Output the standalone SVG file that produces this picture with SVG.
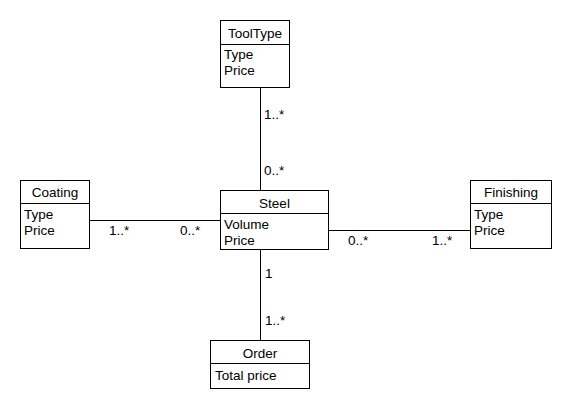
<svg xmlns="http://www.w3.org/2000/svg" width="570" height="410" viewBox="0 0 570 410">
<style>
.box{fill:#fff;stroke:#000;stroke-width:1}
.ln{stroke:#000;stroke-width:1;fill:none}
text{font-family:"Liberation Sans",Arial,sans-serif;font-size:13.5px;fill:#000}
.t{text-anchor:middle}
</style>
<rect width="570" height="410" fill="#fff"/>
<g id="connectors">
<line class="ln" x1="260.5" y1="88" x2="260.5" y2="190"/>
<line class="ln" x1="89" y1="220.5" x2="220" y2="220.5"/>
<line class="ln" x1="329" y1="230.5" x2="470" y2="230.5"/>
<line class="ln" x1="260.5" y1="250" x2="260.5" y2="340"/>
<text x="264" y="119">1..*</text>
<text x="264" y="175">0..*</text>
<text x="265" y="278">1</text>
<text x="265" y="325">1..*</text>
<text x="109" y="235">1..*</text>
<text x="180" y="235">0..*</text>
<text x="348" y="245">0..*</text>
<text x="432" y="245">1..*</text>
</g>
<g id="ToolType">
<rect class="box" x="220.5" y="20.5" width="69" height="67"/>
<line class="ln" x1="220.5" y1="44.5" x2="289.5" y2="44.5"/>
<text class="t" x="255" y="38">ToolType</text>
<text x="224" y="59">Type</text>
<text x="224" y="75">Price</text>
</g>
<g id="Coating">
<rect class="box" x="20.5" y="180.5" width="69" height="68"/>
<line class="ln" x1="20.5" y1="203.5" x2="89.5" y2="203.5"/>
<text class="t" x="55" y="197">Coating</text>
<text x="24" y="219">Type</text>
<text x="24" y="235">Price</text>
</g>
<g id="Steel">
<rect class="box" x="220.5" y="190.5" width="108" height="59"/>
<line class="ln" x1="220.5" y1="213.5" x2="328.5" y2="213.5"/>
<text class="t" x="274.5" y="208">Steel</text>
<text x="224" y="229">Volume</text>
<text x="224" y="245">Price</text>
</g>
<g id="Finishing">
<rect class="box" x="470.5" y="180.5" width="81" height="68"/>
<line class="ln" x1="470.5" y1="203.5" x2="551.5" y2="203.5"/>
<text class="t" x="511" y="197">Finishing</text>
<text x="474" y="219">Type</text>
<text x="474" y="235">Price</text>
</g>
<g id="Order">
<rect class="box" x="210.5" y="340.5" width="99" height="48"/>
<line class="ln" x1="210.5" y1="363.5" x2="309.5" y2="363.5"/>
<text class="t" x="260" y="358">Order</text>
<text x="215" y="380">Total price</text>
</g>
</svg>
